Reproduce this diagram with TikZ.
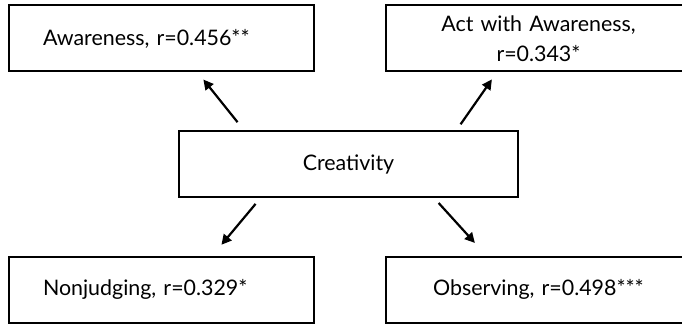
\documentclass[tikz,border=0pt]{standalone}
\usepackage{fontspec}
\setmainfont{Lato}
\usetikzlibrary{calc,arrows.meta}
\begin{document}
\begin{tikzpicture}[x=1pt,y=1pt,
    >={Triangle[length=10pt,width=10pt]},
    facet/.style={draw,line width=2pt,inner xsep=34pt,inner ysep=0pt,
        text width=237pt,minimum height=66pt,
        font=\fontsize{21.4}{30}\selectfont},
    link/.style={->,line width=2.2pt}]
    \clip (0,0) rectangle (682,324);
    \node[facet,align=left] (Aw) at (161.5,285.5) {Awareness, r=0.456**};
    \node[facet,align=center] (Act) at (538.5,285.5) {Act with Awareness,\\r=0.343*};
    \node[facet,align=center,text width=271pt] (Cr) at (348.5,160) {Creativity};
    \node[facet,align=left] (Nj) at (161.5,34.5) {Nonjudging, r=0.329*};
    \node[facet,align=center] (Ob) at (538.5,34.5) {Observing, r=0.498***};
    \draw[link,shorten <=10pt,shorten >=9pt]
        ($(Cr.north west)!0.193!(Cr.north east)$) -- ($(Aw.south west)!0.618!(Aw.south east)$);
    \draw[link,shorten <=7pt,shorten >=8.5pt]
        ($(Cr.north west)!0.817!(Cr.north east)$) -- ($(Act.south west)!0.364!(Act.south east)$);
    \draw[link,shorten <=7.7pt,shorten >=14pt]
        ($(Cr.south west)!0.242!(Cr.south east)$) -- ($(Nj.north west)!0.666!(Nj.north east)$);
    \draw[link,shorten <=6.7pt,shorten >=17pt]
        ($(Cr.south west)!0.751!(Cr.south east)$) -- ($(Ob.north west)!0.33!(Ob.north east)$);
\end{tikzpicture}
\end{document}
